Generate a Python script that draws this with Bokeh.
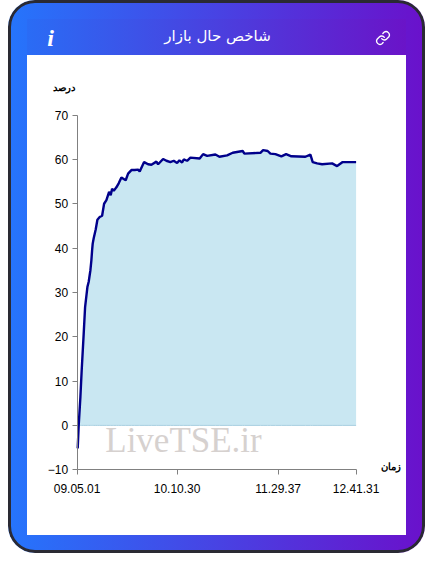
from bokeh.embed import file_html
from bokeh.models import ColumnDataSource, FixedTicker, Label, Range1d
from bokeh.plotting import figure
from bokeh.resources import INLINE
from urllib.parse import quote

# Data
sample_index = [0.6, 1.6, 3.3, 4.6, 6.6, 8, 10.3, 11.6, 13.3, 14.3, 15, 15.6, 16.6, 18.6, 20.3, 22.6, 25, 27, 29.3,
                32, 33.6, 35, 36.6, 39.3, 41.6, 44.3, 48.6, 51, 54.3, 57.6, 61, 62.6, 67, 71, 74.3, 79.3, 81, 86,
                89.3, 93.3, 96.6, 100, 102.3, 105, 106.6, 110, 113.3, 122.6, 126, 130, 138.3, 142.3, 150, 155.6,
                165.6, 167.3, 183.3, 186, 190.6, 193.3, 198.3, 204.3, 209, 214.3, 228.3, 233.3, 235.6, 240, 245,
                255, 260, 265.6, 279]
index_values = [-5.2, 0, 6.4, 12.5, 20.7, 26.7, 31.2, 32.4, 35, 37.3, 39.5, 41, 42.2, 44.2, 46.4, 47, 47.3, 50, 50.8,
                52.7, 51.9, 53.4, 52.9, 53.7, 54.6, 55.9, 55.3, 56.8, 57.6, 57.6, 57.7, 57.3, 59.4, 58.9, 58.8, 59.5,
                58.9, 60.1, 59.7, 59.4, 59.7, 59.2, 59.8, 59.3, 60, 59.7, 60.4, 60.2, 61.2, 60.8, 61.1, 60.6, 60.9,
                61.5, 61.9, 61.3, 61.5, 62.1, 61.9, 61.3, 61.2, 60.7, 61.2, 60.7, 60.6, 61.1, 59.4, 59.1, 58.9,
                59.1, 58.5, 59.4, 59.4]
zeros = [0] * len(sample_index)
x_tick_positions = [0, 100, 201, 279]
x_tick_labels = ["09.05.01", "10.10.30", "11.29.37", "12.41.31"]
y_ticks = [-10, 0, 10, 20, 30, 40, 50, 60, 70]
title_text = "شاخص حال بازار"
y_title = "درصد"
x_title = "زمان"
watermark = "LiveTSE.ir"

W, H = 417, 553
LEFT, TOP, RIGHT, BOTTOM = 68.6, 114.6, 69.4, 83.8
XMIN, XMAX, YMIN, YMAX = 0, 279, -10, 70
px_x = (XMAX - XMIN) / (W - LEFT - RIGHT)
px_y = (YMAX - YMIN) / (H - TOP - BOTTOM)

link_svg = ("<svg xmlns='http://www.w3.org/2000/svg' viewBox='0 0 24 24' fill='none' stroke='white' "
            "stroke-width='2' stroke-linecap='round' stroke-linejoin='round'>"
            "<path d='M10 13a5 5 0 0 0 7.5.5l3-3a5 5 0 0 0-7-7l-1.7 1.7'/>"
            "<path d='M14 11a5 5 0 0 0-7.5-.5l-3 3a5 5 0 0 0 7 7l1.7-1.7'/></svg>")
icon = "url(\"data:image/svg+xml," + quote(link_svg) + "\")"

background = ", ".join([
    f"{icon} no-repeat 367px 29px / 16px 18px",
    "linear-gradient(#fff,#fff) no-repeat 19px 55px / 379px 480px",
    "linear-gradient(to right,#2a6cf5,#6a14c8) no-repeat 19px 19px / 379px 36px",
    "linear-gradient(to right,#2575fc,#6a11cb)",
])

# The frame fills the whole figure so that the header and axis titles can be drawn in it.
p = figure(width=W, height=H, output_backend="svg", toolbar_location=None,
           x_range=Range1d(XMIN - LEFT * px_x, XMAX + RIGHT * px_x),
           y_range=Range1d(YMIN - BOTTOM * px_y, YMAX + TOP * px_y),
           min_border=0,
           border_fill_color=None, background_fill_color=None, outline_line_color=None,
           margin=(0, 0, 0, 8),
           styles={"background": background, "border-radius": "27px",
                   "box-shadow": "inset 0 0 0 3px #2a2a33"})
p.grid.visible = False

src = ColumnDataSource(dict(x=sample_index, y=index_values, base=zeros))
p.varea(x="x", y1="base", y2="y", source=src, fill_color="#c9e7f2")
p.line(x="x", y="base", source=src, line_color="#a8cfe0", line_width=1)
p.line(x="x", y="y", source=src, line_color="#00008b", line_width=2.4)

for ax in (p.xaxis[0], p.yaxis[0]):
    ax.axis_line_color = "#808080"
    ax.major_tick_line_color = "#808080"
    ax.major_tick_out = 5
    ax.major_tick_in = 0
    ax.minor_tick_line_color = None
    ax.major_label_text_font = "Liberation Sans"
    ax.major_label_text_font_size = "12px"
    ax.major_label_text_color = "#000000"

p.xaxis[0].fixed_location = YMIN
p.xaxis[0].bounds = (XMIN, XMAX)
p.xaxis[0].ticker = FixedTicker(ticks=x_tick_positions)
p.xaxis[0].major_label_overrides = dict(zip(x_tick_positions, x_tick_labels))
p.xaxis[0].major_label_standoff = 9
p.yaxis[0].fixed_location = XMIN
p.yaxis[0].bounds = (YMIN, YMAX)
p.yaxis[0].ticker = FixedTicker(ticks=y_ticks)
p.yaxis[0].major_label_standoff = 4


def label(text, x, y, size, color="#000000", font="Liberation Sans", style="normal"):
    p.add_layout(Label(x=x, y=H - y, x_units="screen", y_units="screen", text=text,
                       text_font=font, text_font_size=size, text_color=color, text_font_style=style,
                       text_align="center", text_baseline="middle"))


label(watermark, 175, 440, "35px", "#d6d1cf", "Liberation Serif")
label(title_text, 209, 35, "15px", "#ffffff", "DejaVu Sans")
label("i", 42, 37, "24px", "#ffffff", "Liberation Serif", "bold italic")
label(y_title, 55, 87, "10px", "#000000", "Liberation Sans", "bold")
label(x_title, 382, 466, "10px", "#000000", "Liberation Sans", "bold")

open("out.html", "w").write(file_html(p, INLINE))
